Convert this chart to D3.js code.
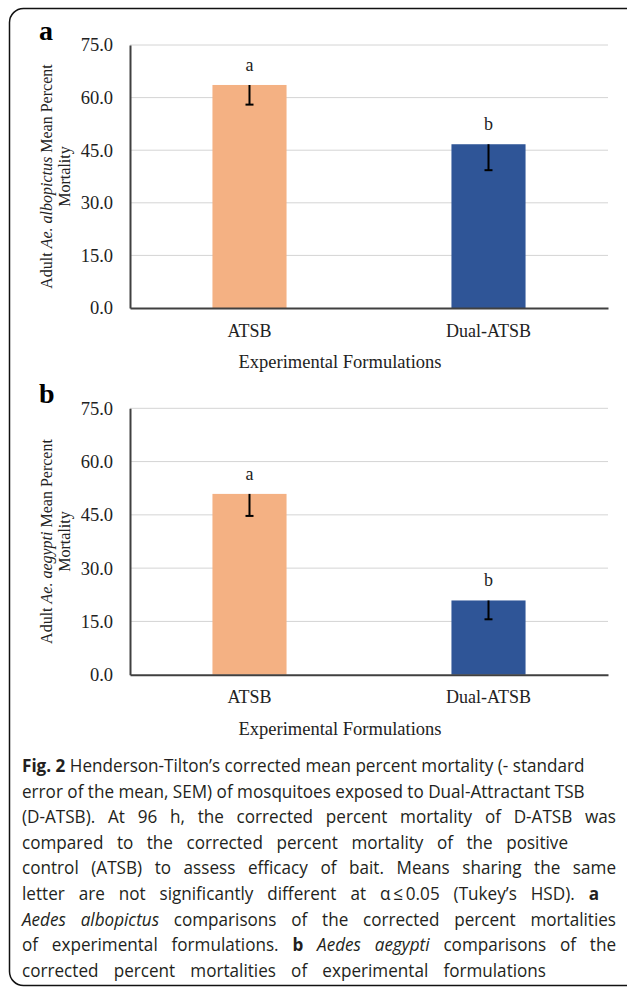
<!DOCTYPE html>
<html>
<head>
<meta charset="utf-8">
<script src="https://cdn.jsdelivr.net/npm/d3@7"></script>
<style>
  body { margin: 0; background: #fff; }
  svg { display: block; }
  .tick text { font-family: "Liberation Serif", "Times New Roman", serif; font-size: 18.5px; fill: #222; }
  .serif { font-family: "Liberation Serif", "Times New Roman", serif; fill: #222; }
  .caption { font-family: "Open Sans", sans-serif; font-size: 18.5px; fill: #231f20; }
</style>
</head>
<body>
<script>
// data
var categories = ["ATSB", "Dual-ATSB"];
var albopictusMean = [63.6, 46.7];
var albopictusSem = [5.6, 7.4];
var albopictusLetters = ["a", "b"];
var aegyptiMean = [50.9, 20.9];
var aegyptiSem = [6.2, 5.3];
var aegyptiLetters = ["a", "b"];
var barColors = ["#F4B183", "#2F5597"];
var yTicks = [0, 15, 30, 45, 60, 75];

var width = 627, height = 993;

var svg = d3.select("body").append("svg")
  .attr("width", width)
  .attr("height", height);

// caption box (runs off the right side like the original)
svg.append("rect")
  .attr("x", 9.5).attr("y", 8.5)
  .attr("width", 660).attr("height", 977)
  .attr("rx", 14)
  .attr("fill", "none")
  .attr("stroke", "#111")
  .attr("stroke-width", 1.5);

var x = d3.scaleBand()
  .domain(categories)
  .range([130, 608]);

function panel(opts) {
  var y = d3.scaleLinear()
    .domain([0, 75])
    .range([opts.bottom, opts.top]);

  var g = svg.append("g");

  //gridlines
  g.selectAll(".grid")
    .data(yTicks.slice(1))
    .enter().append("line")
    .attr("x1", x.range()[0]).attr("x2", x.range()[1])
    .attr("y1", function(d) { return y(d); })
    .attr("y2", function(d) { return y(d); })
    .attr("stroke", "#d4d4d4")
    .attr("stroke-width", 1);

  //left axis
  var yAxis = d3.axisLeft(y)
    .tickValues(yTicks)
    .tickSize(0)
    .tickPadding(17)
    .tickFormat(d3.format(".1f"));

  g.append("g")
    .attr("class", "y axis")
    .attr("transform", "translate(" + x.range()[0] + ",0)")
    .call(yAxis)
    .call(function(a) { a.select(".domain").attr("stroke", "#404040").attr("stroke-width", 2); });

  //bars
  var bw = x.bandwidth() * 0.31;
  g.selectAll(".bar")
    .data(opts.mean)
    .enter().append("rect")
    .attr("class", "bar")
    .attr("x", function(d, i) { return x(categories[i]) + x.bandwidth() / 2 - bw / 2; })
    .attr("y", function(d) { return y(d); })
    .attr("width", bw)
    .attr("height", function(d) { return y(0) - y(d); })
    .attr("fill", function(d, i) { return barColors[i]; });

  //error bars (minus SEM only)
  opts.mean.forEach(function(m, i) {
    var cx = x(categories[i]) + x.bandwidth() / 2;
    g.append("line")
      .attr("x1", cx).attr("x2", cx)
      .attr("y1", y(m)).attr("y2", y(m - opts.sem[i]))
      .attr("stroke", "#000").attr("stroke-width", 2);
    g.append("line")
      .attr("x1", cx - 4).attr("x2", cx + 4)
      .attr("y1", y(m - opts.sem[i])).attr("y2", y(m - opts.sem[i]))
      .attr("stroke", "#000").attr("stroke-width", 2);
    g.append("text")
      .attr("class", "serif")
      .attr("x", cx)
      .attr("y", y(m) - 14)
      .attr("text-anchor", "middle")
      .style("font-size", "18px")
      .text(opts.letters[i]);
  });

  //bottom axis
  var xAxis = d3.axisBottom(x).tickSize(0).tickPadding(16);
  g.append("g")
    .attr("class", "x axis")
    .attr("transform", "translate(0," + opts.bottom + ")")
    .call(xAxis)
    .call(function(a) { a.select(".domain").attr("stroke", "#404040").attr("stroke-width", 2); })
    .selectAll("text").style("font-size", "18px");

  //axis titles
  g.append("text")
    .attr("class", "serif")
    .attr("x", 340)
    .attr("y", opts.bottom + 60)
    .attr("text-anchor", "middle")
    .style("font-size", "18.5px")
    .text("Experimental Formulations");

  var cy = (opts.top + opts.bottom) / 2;
  var t1 = g.append("text")
    .attr("class", "serif")
    .attr("transform", "translate(52," + cy + ") rotate(-90)")
    .attr("text-anchor", "middle")
    .style("font-size", "16px");
  t1.append("tspan").text("Adult ");
  t1.append("tspan").style("font-style", "italic").text(opts.species);
  t1.append("tspan").text(" Mean Percent");

  g.append("text")
    .attr("class", "serif")
    .attr("transform", "translate(70," + cy + ") rotate(-90)")
    .attr("text-anchor", "middle")
    .style("font-size", "16px")
    .text("Mortality");

  //panel letter
  g.append("text")
    .attr("class", "serif")
    .attr("x", 39)
    .attr("y", opts.top - 5)
    .style("font-size", "28px")
    .style("font-weight", "bold")
    .style("fill", "#000")
    .text(opts.label);
}

panel({label: "a", top: 45, bottom: 308, mean: albopictusMean, sem: albopictusSem,
  letters: albopictusLetters, species: "Ae. albopictus"});
panel({label: "b", top: 408.3, bottom: 674.7, mean: aegyptiMean, sem: aegyptiSem,
  letters: aegyptiLetters, species: "Ae. aegypti"});

// caption, each line is a list of [text, style] pieces plus the x where it should end
var captionLines = [
  [[["Fig. 2", "b"], [" Henderson-Tilton\u2019s corrected mean percent mortality (- standard", ""]], 585],
  [[["error of the mean, SEM) of mosquitoes exposed to Dual-Attractant TSB", ""]], 576],
  [[["(D-ATSB). At 96 h, the corrected percent mortality of D-ATSB was", ""]], 616],
  [[["compared to the corrected percent mortality of the positive", ""]], 568],
  [[["control (ATSB) to assess efficacy of bait. Means sharing the same", ""]], 616],
  [[["letter are not significantly different at \u03b1\u2009\u2264\u20090.05 (Tukey\u2019s HSD). ", ""], ["a", "b"]], 599],
  [[["Aedes albopictus", "i"], [" comparisons of the corrected percent mortalities", ""]], 616],
  [[["of experimental formulations. ", ""], ["b", "b"], [" ", ""], ["Aedes aegypti", "i"], [" comparisons of the", ""]], 616],
  [[["corrected percent mortalities of experimental formulations", ""]], 546]
];

var capX = 22, capY = 772, capStep = 25.6;
var cap = svg.append("g");
var capTexts = captionLines.map(function(line, i) {
  var t = cap.append("text")
    .attr("class", "caption")
    .attr("x", 0)
    .attr("y", capY + i * capStep)
    .attr("xml:space", "preserve");
  line[0].forEach(function(p) {
    var s = t.append("tspan").text(p[0]);
    if (p[1] === "b") s.style("font-weight", "bold");
    if (p[1] === "i") s.style("font-style", "italic");
  });
  return t;
});

// the original face is narrower than Open Sans: squeeze so the first line (natural spacing) fits
var sx = (captionLines[0][1] - capX) / capTexts[0].node().getComputedTextLength();
sx = Math.min(sx, 1);
cap.attr("transform", "translate(" + capX + ",0) scale(" + sx + ",1)");
capTexts.forEach(function(t, i) {
  if (i === 0) return;
  var line = captionLines[i];
  var natural = t.node().getComputedTextLength();
  var spaces = line[0].map(function(p) { return p[0]; }).join("").split(" ").length - 1;
  var extra = Math.max(0, ((line[1] - capX) / sx - natural) / spaces);
  t.style("word-spacing", extra + "px");
});
</script>
</body>
</html>
